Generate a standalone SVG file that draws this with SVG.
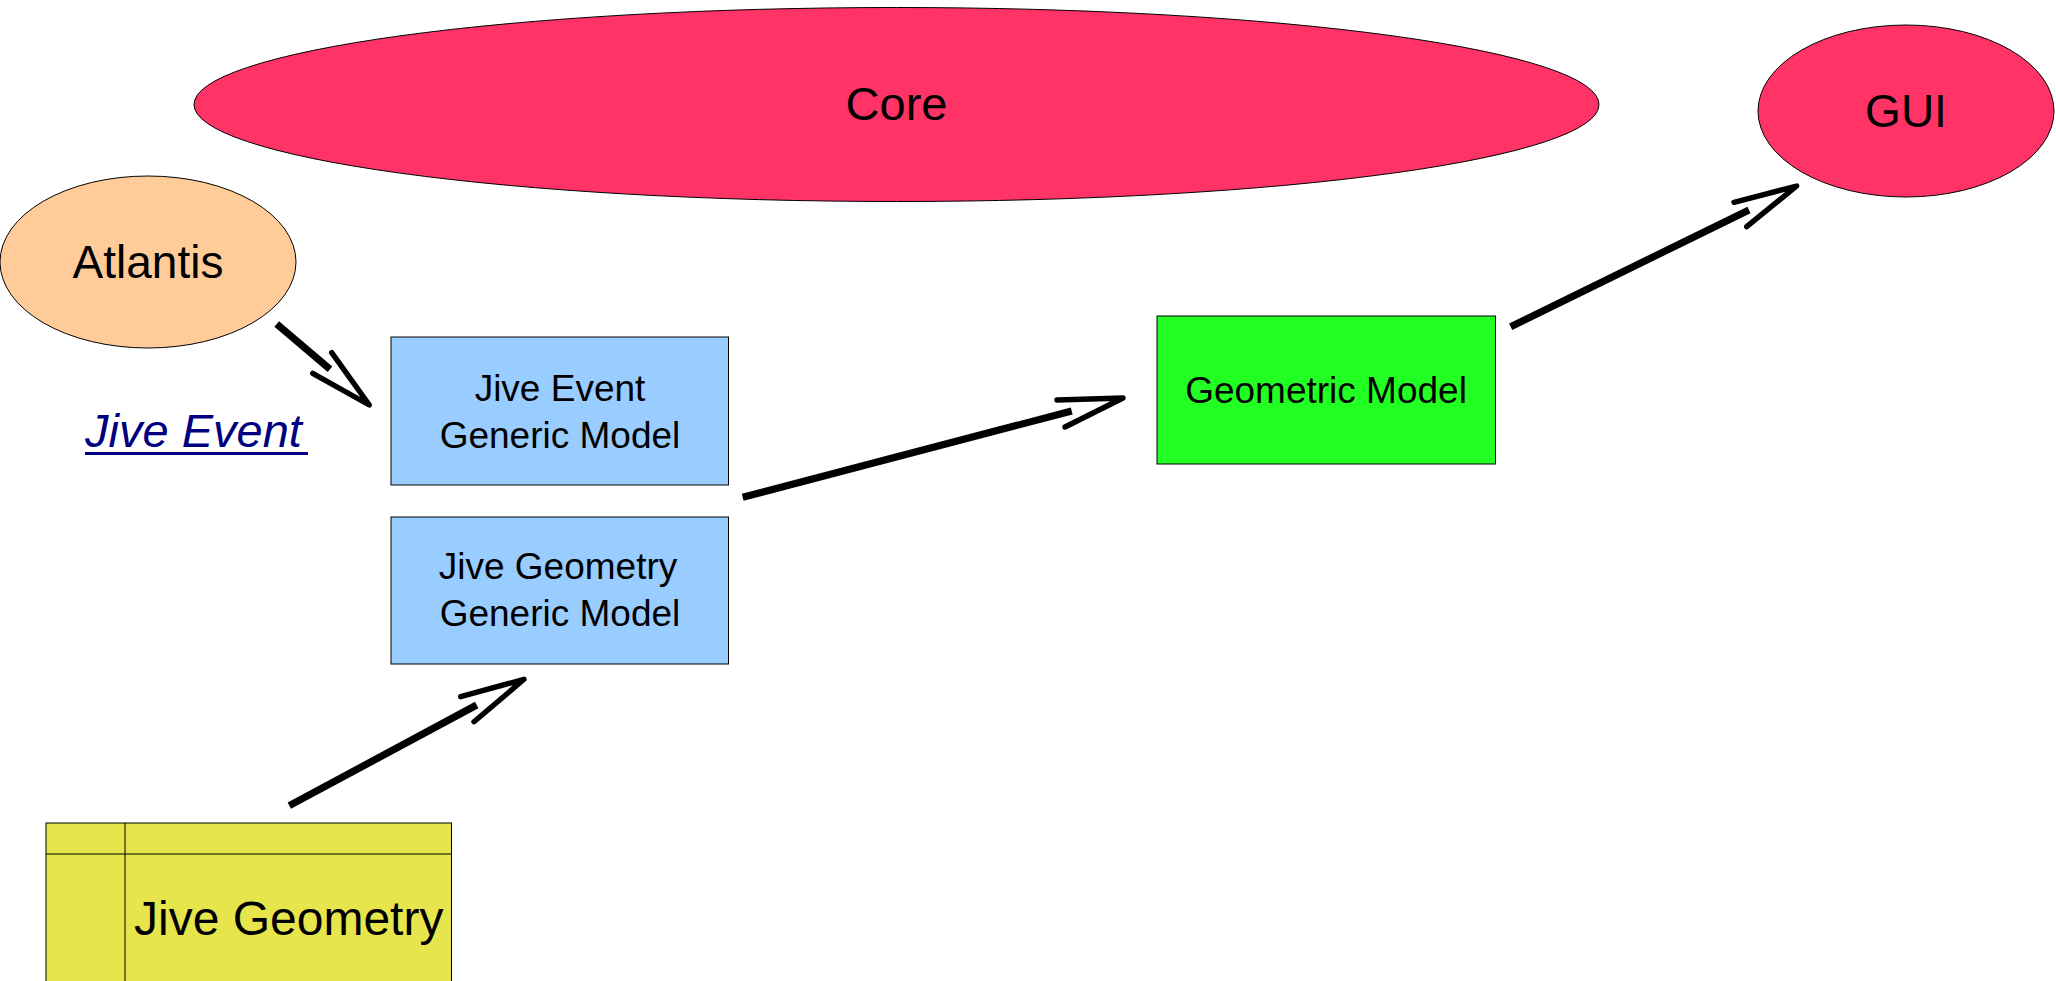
<svg xmlns="http://www.w3.org/2000/svg" width="2056" height="981" viewBox="0 0 2056 981">
<style>
text{font-family:"Liberation Sans",Arial,sans-serif;fill:#000}
.node{stroke:#000;stroke-width:1}
.big{font-size:46px;text-anchor:middle}
.box{font-size:37px;text-anchor:middle}
.shaft{stroke:#000;stroke-width:7.2;fill:none;stroke-linecap:butt}
.head{stroke:#000;stroke-width:5.4;fill:none;stroke-linecap:round;stroke-linejoin:round}
</style>
<rect width="2056" height="981" fill="#fff"/>
<g id="core"><ellipse class="node" cx="896.5" cy="104.5" rx="702.5" ry="97" fill="#FF3366"/><text class="big" x="896.5" y="120" style="font-size:47px">Core</text></g>
<g id="gui"><ellipse class="node" cx="1906" cy="111" rx="148" ry="86" fill="#FF3366"/><text class="big" x="1906" y="127">GUI</text></g>
<g id="atlantis"><ellipse class="node" cx="148" cy="262" rx="148" ry="86" fill="#FFCC99"/><text class="big" x="148" y="278">Atlantis</text></g>
<g id="jive-event-link"><text x="85" y="447" style="font-size:47px;font-style:italic;fill:#000080">Jive Event</text><line x1="85" y1="453.5" x2="308" y2="453.5" stroke="#000080" stroke-width="3"/></g>
<g id="jive-event-generic-model"><rect class="node" x="391" y="337" width="337.5" height="148" fill="#99CCFF"/><text class="box" x="560" y="401">Jive Event</text><text class="box" x="560" y="447.5">Generic Model</text></g>
<g id="jive-geometry-generic-model"><rect class="node" x="391" y="517" width="337.5" height="147" fill="#99CCFF"/><text class="box" x="558" y="579">Jive Geometry</text><text class="box" x="560" y="626">Generic Model</text></g>
<g id="geometric-model"><rect class="node" x="1157" y="316" width="338.5" height="148" fill="#22FF22"/><text class="box" x="1326" y="403">Geometric Model</text></g>
<g id="jive-geometry"><rect class="node" x="46" y="823" width="405.5" height="170" fill="#E6E64C"/><line class="node" x1="46" y1="854" x2="451.5" y2="854"/><line class="node" x1="125" y1="823" x2="125" y2="990"/><text x="134" y="935" style="font-size:48px">Jive Geometry</text></g>
<g id="connectors">
<line class="shaft" x1="276.7" y1="324" x2="330" y2="369.3"/><polyline class="head" points="312.7,373.3 369.3,405 331.7,352.7"/>
<line class="shaft" x1="742.7" y1="497.3" x2="1071.7" y2="411"/><polyline class="head" points="1057,400 1123,398 1065,427"/>
<line class="shaft" x1="1510.7" y1="326.7" x2="1749" y2="210"/><polyline class="head" points="1734,202.3 1796.7,186 1746.7,226.7"/>
<line class="shaft" x1="289.3" y1="805.7" x2="476.7" y2="705"/><polyline class="head" points="460.7,696.7 524,679.3 474,721.7"/>
</g>
</svg>
